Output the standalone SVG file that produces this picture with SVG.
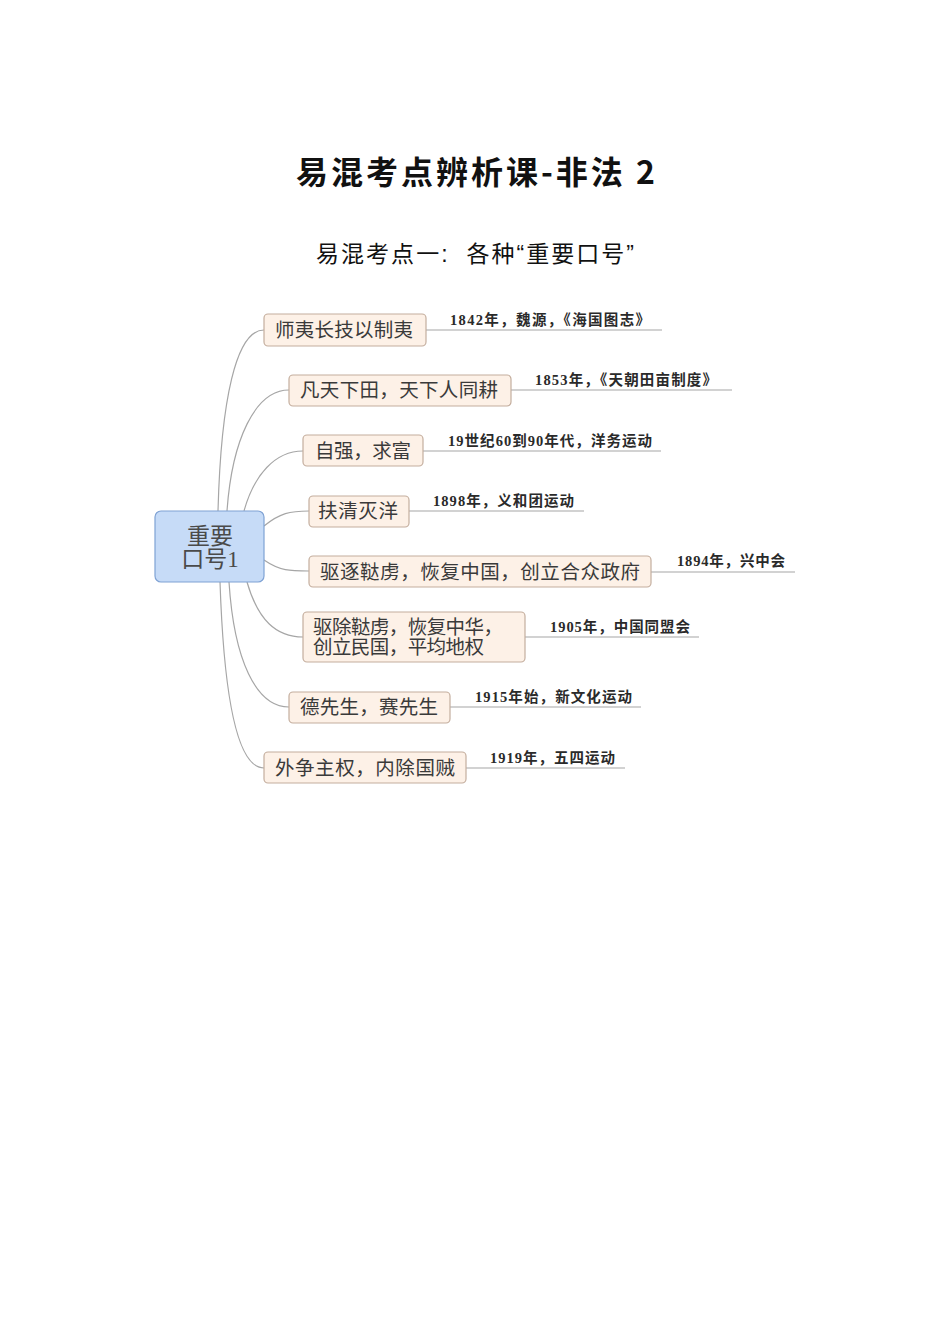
<svg xmlns="http://www.w3.org/2000/svg" width="950" height="1344" viewBox="0 0 950 1344">
<style>
.bg{fill:#ffffff}
.title{font-family:"Noto Sans CJK SC","Liberation Sans",sans-serif;font-weight:bold;font-size:32px;fill:#111}
.sub{font-family:"Liberation Sans","Noto Sans CJK SC",sans-serif;font-size:23px;fill:#111}
.box{fill:#fdf1e7;stroke:#c4ae9e;stroke-width:1.2}
.root{fill:#c6dbf7;stroke:#7fa2d4;stroke-width:1.2}
.nt{font-family:"Liberation Serif","Noto Sans CJK SC",serif;font-size:19.5px;fill:#3a3a3a}
.rt{font-family:"Liberation Serif","Noto Sans CJK SC",serif;font-size:23px;fill:#4a4a4a;text-anchor:middle}
.lb{font-family:"Liberation Serif","Noto Sans CJK SC",serif;font-size:14.5px;font-weight:bold;fill:#2a2a2a}
.ln{fill:none;stroke:#a6a6a6;stroke-width:1.2}
</style>
<rect class="bg" x="0" y="0" width="950" height="1344"/>
<text class="title" x="296" y="184" textLength="359" lengthAdjust="spacing">易混考点辨析课-非法 2</text>
<text class="sub" x="316" y="262" textLength="318" lengthAdjust="spacing" xml:space="preserve">易混考点一:  各种“重要口号”</text>

<g id="connectors">
<path class="ln" d="M218,511 C221,400 236,330 264,330"/>
<path class="ln" d="M227,511 C232,440 255,390 289,390"/>
<path class="ln" d="M244,511 C254,475 275,451 303,451"/>
<path class="ln" d="M264,526 C280,513 290,511 309,511"/>
<path class="ln" d="M264,560 C280,571 290,571 309,571"/>
<path class="ln" d="M247,582 C258,620 276,637 303,637"/>
<path class="ln" d="M229,582 C234,660 256,707 289,707"/>
<path class="ln" d="M220,582 C224,700 238,768 264,768"/>
<line class="ln" x1="426" y1="330" x2="662" y2="330"/>
<line class="ln" x1="511" y1="390" x2="732" y2="390"/>
<line class="ln" x1="423" y1="451" x2="661" y2="451"/>
<line class="ln" x1="409" y1="511" x2="584" y2="511"/>
<line class="ln" x1="651" y1="572" x2="795" y2="572"/>
<line class="ln" x1="525" y1="637" x2="699" y2="637"/>
<line class="ln" x1="450" y1="707" x2="641" y2="707"/>
<line class="ln" x1="466" y1="768" x2="625" y2="768"/>
</g>

<g id="root">
<rect class="root" x="155" y="511" width="109" height="71" rx="6"/>
<text class="rt" x="210" y="544">重要</text>
<text class="rt" x="210" y="567">口号1</text>
</g>

<g id="n1">
<rect class="box" x="264" y="314" width="162" height="32" rx="4"/>
<text class="nt" x="275" y="337" textLength="138" lengthAdjust="spacing">师夷长技以制夷</text>
<text class="lb" x="450" y="325" textLength="200" lengthAdjust="spacing">1842年，魏源，《海国图志》</text>
</g>
<g id="n2">
<rect class="box" x="289" y="375" width="222" height="31" rx="4"/>
<text class="nt" x="300" y="397" textLength="198" lengthAdjust="spacing">凡天下田，天下人同耕</text>
<text class="lb" x="535" y="385" textLength="182" lengthAdjust="spacing">1853年，《天朝田亩制度》</text>
</g>
<g id="n3">
<rect class="box" x="303" y="435" width="120" height="31" rx="4"/>
<text class="nt" x="315" y="458" textLength="96" lengthAdjust="spacing">自强，求富</text>
<text class="lb" x="448" y="446" textLength="204" lengthAdjust="spacing">19世纪60到90年代，洋务运动</text>
</g>
<g id="n4">
<rect class="box" x="309" y="496" width="100" height="31" rx="4"/>
<text class="nt" x="318" y="518" textLength="80" lengthAdjust="spacing">扶清灭洋</text>
<text class="lb" x="433" y="506" textLength="141" lengthAdjust="spacing">1898年，义和团运动</text>
</g>
<g id="n5">
<rect class="box" x="309" y="556" width="342" height="31" rx="4"/>
<text class="nt" x="320" y="579" textLength="320" lengthAdjust="spacing">驱逐鞑虏，恢复中国，创立合众政府</text>
<text class="lb" x="677" y="566" textLength="108" lengthAdjust="spacing">1894年，兴中会</text>
</g>
<g id="n6">
<rect class="box" x="303" y="612" width="222" height="50" rx="4"/>
<text class="nt" x="313" y="634" textLength="190" lengthAdjust="spacing">驱除鞑虏，恢复中华，</text>
<text class="nt" x="313" y="654" textLength="171" lengthAdjust="spacing">创立民国，平均地权</text>
<text class="lb" x="550" y="632" textLength="140" lengthAdjust="spacing">1905年，中国同盟会</text>
</g>
<g id="n7">
<rect class="box" x="289" y="692" width="161" height="31" rx="4"/>
<text class="nt" x="300" y="714" textLength="138" lengthAdjust="spacing">德先生，赛先生</text>
<text class="lb" x="475" y="702" textLength="157" lengthAdjust="spacing">1915年始，新文化运动</text>
</g>
<g id="n8">
<rect class="box" x="264" y="752" width="202" height="31" rx="4"/>
<text class="nt" x="275" y="775" textLength="180" lengthAdjust="spacing">外争主权，内除国贼</text>
<text class="lb" x="490" y="763" textLength="125" lengthAdjust="spacing">1919年，五四运动</text>
</g>
</svg>
